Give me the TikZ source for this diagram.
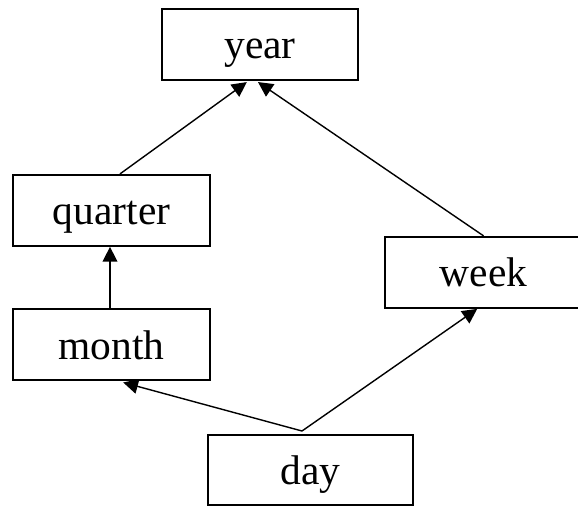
\documentclass[tikz,border=0pt]{standalone}
\usepackage{fontspec}
\setmainfont{Liberation Serif}
\usepackage{tikz}
\usetikzlibrary{arrows.meta}

\begin{document}
\begin{tikzpicture}[
    box/.style={draw=black,line width=1.4pt,fill=white,minimum width=4.9cm,minimum height=1.775cm,inner sep=0pt,text height=0.725cm,text depth=0cm,font=\fontsize{29.5}{35}\selectfont},
    link/.style={line width=1pt,black,-{Triangle[length=0.37cm,width=0.37cm]}}]
    \useasboundingbox (0,0) rectangle (14.45,12.65);
    % Boxes
    \node[box] (year) at (6.5,11.54) {year};
    \node[box,minimum width=4.925cm] (quarter) at (2.79,7.39) {quarter};
    \node[box,minimum width=4.925cm] (month) at (2.79,4.03) {month};
    \node[box,minimum width=4.925cm] (week) at (12.09,5.84) {week};
    \node[box,minimum width=5.125cm,minimum height=1.75cm] (day) at (7.76,0.9) {day};
    % Fork above day
    \coordinate (dayfork) at ([xshift=-0.21cm,yshift=0.075cm]day.north);
    % Arrows
    \draw[link] ([xshift=0.21cm]quarter.north) to ([xshift=-0.33cm,yshift=-0.03cm]year.south);
    \draw[link] (week.north) to ([xshift=-0.05cm,yshift=-0.03cm]year.south);
    \draw[link] ([xshift=-0.04cm]month.north) to ([xshift=-0.04cm]quarter.south);
    \draw[link] (dayfork) to ([xshift=0.29cm,yshift=-0.03cm]month.south);
    \draw[link] (dayfork) to ([xshift=-0.16cm]week.south);
\end{tikzpicture}
\end{document}
